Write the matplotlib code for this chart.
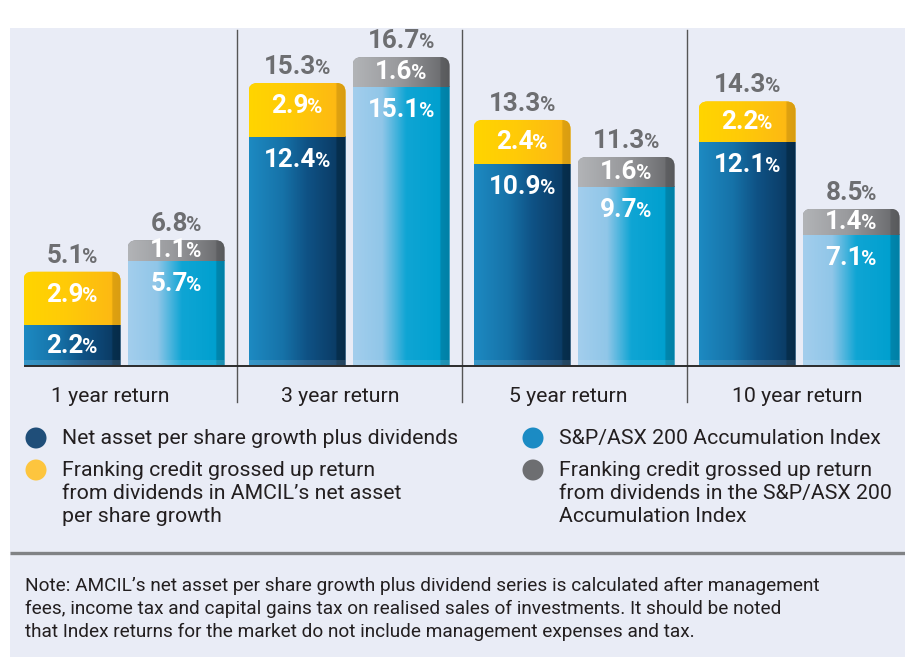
import matplotlib
matplotlib.use('Agg')
import matplotlib.pyplot as plt
import numpy as np
from matplotlib.path import Path
from matplotlib.patches import PathPatch, Rectangle, Circle
from matplotlib.offsetbox import TextArea, HPacker, AnnotationBbox
from matplotlib.colors import to_rgb

# ---------------- data ----------------
periods = ['1 year return', '3 year return', '5 year return', '10 year return']
nav_growth = [2.2, 12.4, 10.9, 12.1]
nav_franking = [2.9, 2.9, 2.4, 2.2]
nav_total = [5.1, 15.3, 13.3, 14.3]
index_growth = [5.7, 15.1, 9.7, 7.1]
index_franking = [1.1, 1.6, 1.6, 1.4]
index_total = [6.8, 16.7, 11.3, 8.5]

legend_labels = [
    'Net asset per share growth plus dividends',
    "Franking credit grossed up return\nfrom dividends in AMCIL\u2019s net asset\nper share growth",
    'S&P/ASX 200 Accumulation Index',
    'Franking credit grossed up return\nfrom dividends in the S&P/ASX 200\nAccumulation Index',
]
note_lines = [
    "Note: AMCIL\u2019s net asset per share growth plus dividend series is calculated after management",
    "fees, income tax and capital gains tax on realised sales of investments. It should be noted",
    "that Index returns for the market do not include management expenses and tax.",
]

FONT = 'Roboto'
W, H = 905, 657
fig = plt.figure(figsize=(W / 100, H / 100), dpi=100)
fig.patch.set_facecolor('white')

# background axes in pixel coordinates
bg = fig.add_axes([0, 0, 1, 1])
bg.set_xlim(0, W)
bg.set_ylim(H, 0)
bg.axis('off')
bg.add_patch(Rectangle((10, 28), W - 10, H - 28, facecolor='#e9ecf6', edgecolor='none', zorder=0))
bg.plot([10, W], [553, 553], color='#808285', lw=2.4, solid_capstyle='butt', zorder=1)

# legend
leg_cols = ['#1f4e79', '#fdc53e', '#1b8bc4', '#6d6e71']
leg_pos = [(36, 438), (36, 470), (533, 438), (533, 470)]
for (cx, cy), col, lab in zip(leg_pos, leg_cols, legend_labels):
    bg.add_patch(Circle((cx, cy), 10.5, facecolor=col, edgecolor='none', zorder=2))
    for k, line in enumerate(lab.split('\n')):
        bg.text(cx + 26, cy + 6 + 23 * k, line, fontsize=15.3, family=FONT, color='#231f20',
                va='baseline', ha='left', zorder=3)

# note
for i, line in enumerate(note_lines):
    bg.text(25, 591 + 23 * i, line, fontsize=13.7, family=FONT, color='#231f20',
            va='baseline', ha='left', zorder=3)

# ---------------- chart axes ----------------
base_px, top_px = 366, 28
px_per_unit_y = 18.5
px_per_unit_x = 225.0
x_left_px, x_right_px = 10, W
ax = fig.add_axes([x_left_px / W, (H - base_px) / H, (x_right_px - x_left_px) / W, (base_px - top_px) / H])
ax.set_xlim((x_left_px - 124) / px_per_unit_x, (x_right_px - 124) / px_per_unit_x)
ax.set_ylim(0, (base_px - top_px) / px_per_unit_y)
ax.axis('off')
ax.patch.set_visible(False)

width = 97 / px_per_unit_x
offset = 52 / px_per_unit_x
xg = np.arange(len(periods))
x_nav = xg - offset
x_idx = xg + offset


def gradient_img(stops, n=256):
    pos = np.array([s[0] for s in stops])
    cols = np.array([to_rgb(s[1]) for s in stops])
    t = np.linspace(0, 1, n)
    img = np.zeros((1, n, 3))
    for c in range(3):
        img[0, :, c] = np.interp(t, pos, cols[:, c])
    return img


G_DARK = gradient_img([(0, '#1d8ac2'), (0.35, '#1672a8'), (0.6, '#0f5285'), (0.9, '#0b3c66'),
                       (0.905, '#07304f'), (1, '#062a48')])
G_YEL = gradient_img([(0, '#ffd500'), (0.45, '#ffca08'), (0.9, '#fdb913'),
                      (0.905, '#dfa210'), (1, '#d89c12')])
G_LIGHT = gradient_img([(0, '#a3ceed'), (0.3, '#90c6e8'), (0.55, '#0fa5d4'), (0.9, '#00a0cf'),
                        (0.905, '#0087ae'), (1, '#007fa5')])
G_GRAY = gradient_img([(0, '#b2b4b7'), (0.45, '#9a9b9e'), (0.9, '#6e6f72'),
                       (0.905, '#5f6063'), (1, '#58595b')])

rx = 9 / px_per_unit_x
ry = 9 / px_per_unit_y


def rounded_top_path(x0, x1, y0, y1):
    verts = [(x0, y0), (x0, y1 - ry), (x0, y1), (x0 + rx, y1), (x1 - rx, y1),
             (x1, y1), (x1, y1 - ry), (x1, y0), (x0, y0)]
    codes = [Path.MOVETO, Path.LINETO, Path.CURVE3, Path.CURVE3, Path.LINETO,
             Path.CURVE3, Path.CURVE3, Path.LINETO, Path.CLOSEPOLY]
    return Path(verts, codes)


def draw_stack(xs, lower, upper, glow, gup, clow, cup):
    b1 = ax.bar(xs, lower, width, color=clow, zorder=2)
    b2 = ax.bar(xs, upper, width, bottom=lower, color=cup, zorder=2)
    for r1, r2 in zip(b1.patches, b2.patches):
        x0 = r1.get_x()
        x1 = x0 + r1.get_width()
        ytop = r2.get_y() + r2.get_height()
        clip = PathPatch(rounded_top_path(x0, x1, 0, ytop), transform=ax.transData,
                         facecolor='none', edgecolor='none')
        ax.add_patch(clip)
        for r, g in ((r1, glow), (r2, gup)):
            r.set_clip_path(clip)
            im = ax.imshow(g, extent=(x0, x1, r.get_y(), r.get_y() + r.get_height()),
                           aspect='auto', zorder=3, interpolation='bilinear')
            im.set_clip_path(clip)
        # base plate shading
        bh = 6 / px_per_unit_y
        ax.add_patch(Rectangle((x0, 0), x1 - x0, bh, facecolor='white', alpha=0.12,
                               edgecolor='none', zorder=4, clip_path=clip))
    return b1, b2


draw_stack(x_nav, nav_growth, nav_franking, G_DARK, G_YEL, '#13669a', '#fec40c')
draw_stack(x_idx, index_growth, index_franking, G_LIGHT, G_GRAY, '#3fb0dc', '#8a8b8e')


def pct_label(x, y, value, color, size):
    num = TextArea(f'{value:.1f}', textprops=dict(family=FONT, fontweight='bold', color=color, fontsize=size))
    pc = TextArea('%', textprops=dict(family=FONT, fontweight='bold', color=color, fontsize=size * 0.8))
    box = HPacker(children=[num, pc], align='baseline', pad=0, sep=-1)
    ab = AnnotationBbox(box, (x, y), xycoords='data', frameon=False, pad=0,
                        box_alignment=(0.5, 0.5), zorder=6, annotation_clip=False)
    ax.add_artist(ab)


inset = 23 / px_per_unit_y
LBL = 18.7
for i in range(len(periods)):
    for xs, low, up, tot in ((x_nav[i], nav_growth[i], nav_franking[i], nav_total[i]),
                             (x_idx[i], index_growth[i], index_franking[i], index_total[i])):
        pct_label(xs, low - min(low / 2, inset), low, 'white', LBL)
        pct_label(xs, low + up - min(up / 2, inset), up, 'white', LBL)
        pct_label(xs, tot + 16 / px_per_unit_y, tot, '#6d6e71', LBL)

# baseline, separators, category labels
ax.plot([(24 - 124) / px_per_unit_x, (900 - 124) / px_per_unit_x], [0, 0], color='#2b2b2b',
        lw=1.4, zorder=7, clip_on=False, solid_capstyle='butt')
for s in xg[:-1] + 0.5:
    ax.plot([s, s], [(366 - 402) / px_per_unit_y, (366 - 30) / px_per_unit_y], color='#555555',
            lw=1.0, zorder=1, clip_on=False)
label_x_px = [110, 340, 568, 797]
for i, p in enumerate(periods):
    ax.text((label_x_px[i] - 124) / px_per_unit_x, (366 - 396) / px_per_unit_y, p, family=FONT,
            fontsize=15.3, color='#231f20', ha='center', va='center', clip_on=False)

fig.savefig('out.png', dpi=100, facecolor='white')
